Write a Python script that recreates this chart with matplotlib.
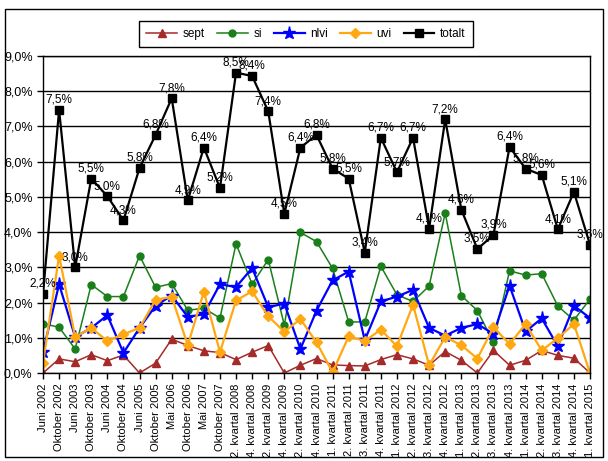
import numpy as np
import matplotlib.pyplot as plt
from matplotlib.patches import Rectangle

plt.rcParams['font.family'] = ['Liberation Sans', 'DejaVu Sans']

# categories on the x axis
labels = ['Juni 2002', 'Oktober 2002', 'Juni 2003', 'Oktober 2003', 'Juni 2004',
          'Oktober 2004', 'Juni 2005', 'Oktober 2005', 'Mai 2006', 'Oktober 2006',
          'Mai 2007', 'Oktober 2007', '2. kvartal 2008', '4. kvartal 2008',
          '2. kvartal 2009', '4. kvartal 2009', '2. kvartal 2010', '4. kvartal 2010',
          '1. kvartal 2011', '2. kvartal 2011', '3. kvartal 2011', '4. kvartal 2011',
          '1. kvartal 2012', '2. kvartal 2012', '3. kvartal 2012', '4. kvartal 2012',
          '1. kvartal 2013', '2. kvartal 2013', '3. kvartal 2013', '4. kvartal 2013',
          '1. kvartal 2014', '2. kvartal 2014', '3. kvartal 2014', '4. kvartal 2014',
          '1. kvartal 2015']

# series (percent)
sept = [0.0, 0.40, 0.32, 0.52, 0.35, 0.51, 0.0, 0.28, 0.96, 0.78,
        0.63, 0.58, 0.38, 0.59, 0.78, 0.0, 0.22, 0.41, 0.23, 0.21,
        0.20, 0.38, 0.52, 0.40, 0.22, 0.61, 0.36, 0.0, 0.64, 0.22,
        0.36, 0.64, 0.50, 0.42, 0.0]
si = [1.40, 1.30, 0.68, 2.51, 2.17, 2.17, 3.33, 2.43, 2.54, 1.78,
      1.84, 1.56, 3.67, 2.52, 3.22, 1.36, 3.99, 3.73, 2.97, 1.45,
      1.45, 3.03, 2.22, 2.03, 2.47, 4.54, 2.20, 1.77, 0.87, 2.90,
      2.78, 2.82, 1.90, 1.50, 2.10]
nlvi = [0.60, 2.52, 1.02, 1.28, 1.64, 0.57, 1.28, 1.91, 2.20, 1.59,
        1.67, 2.52, 2.44, 2.98, 1.87, 1.97, 0.68, 1.77, 2.63, 2.88,
        0.93, 2.03, 2.17, 2.36, 1.28, 1.06, 1.28, 1.39, 1.11, 2.48,
        1.18, 1.55, 0.76, 1.91, 1.56]
uvi = [0.28, 3.33, 1.02, 1.28, 0.91, 1.10, 1.28, 2.08, 2.16, 0.79,
       2.31, 0.59, 2.06, 2.32, 1.61, 1.17, 1.53, 0.87, 0.02, 1.04,
       0.91, 1.23, 0.76, 1.94, 0.22, 1.02, 0.79, 0.41, 1.30, 0.82,
       1.39, 0.64, 0.99, 1.39, 0.0]
totalt = [2.24, 7.47, 3.0, 5.52, 5.02, 4.33, 5.82, 6.76, 7.8, 4.9,
          6.4, 5.25, 8.53, 8.43, 7.43, 4.52, 6.4, 6.76, 5.8, 5.52,
          3.42, 6.68, 5.7, 6.68, 4.1, 7.2, 4.64, 3.52, 3.92, 6.42,
          5.8, 5.62, 4.08, 5.14, 3.64]

x = np.arange(len(labels))

fig = plt.figure(figsize=(6.08, 4.61), dpi=100)
W, H = 608, 461

# outer chart border
fig.patches.append(Rectangle((5 / W, 1 - 457 / H), 598 / W, 448 / H,
                             transform=fig.transFigure, fill=False,
                             edgecolor='black', linewidth=1))

ax = fig.add_axes([43 / W, 1 - 373 / H, 547 / W, 317 / H])

ax.plot(x, sept, color='#A52A2A', lw=1.1, marker='^', ms=6, label='sept')
ax.plot(x, si, color='#1A7F1A', lw=1.1, marker='o', ms=5, label='si')
ax.plot(x, nlvi, color='#0000FF', lw=1.6, marker='*', ms=9.5, label='nlvi')
ax.plot(x, uvi, color='#FFA811', lw=1.6, marker='D', ms=5, label='uvi')
ax.plot(x, totalt, color='black', lw=1.6, marker='s', ms=5.5, label='totalt')

for xi, v in zip(x, totalt):
    ax.annotate(f'{v:.1f}%'.replace('.', ','), (xi, v), xytext=(0, 3),
                textcoords='offset points', ha='center', va='bottom', fontsize=8.5)

ax.set_xlim(0, len(labels) - 1)
ax.set_ylim(0, 9)
ax.set_yticks(np.arange(0, 10, 1))
ax.set_yticklabels([f'{v:.1f}%'.replace('.', ',') for v in np.arange(0, 10, 1)], fontsize=9)
ax.set_xticks(x)
ax.set_xticklabels(labels, rotation=90, fontsize=8)
ax.tick_params(direction='out', length=4, width=1, color='black')
ax.yaxis.grid(True, color='black', lw=1)
ax.set_axisbelow(True)
for s in ax.spines.values():
    s.set_color('black')
    s.set_linewidth(1)

fig.legend(loc='center', bbox_to_anchor=(306 / W, 1 - 34 / H), ncol=5,
           fontsize=8.5, frameon=True, fancybox=False, edgecolor='black',
           framealpha=1, handlelength=2.6, handletextpad=0.5,
           columnspacing=1.0, borderpad=0.6)

fig.savefig('out.png', dpi=100)
